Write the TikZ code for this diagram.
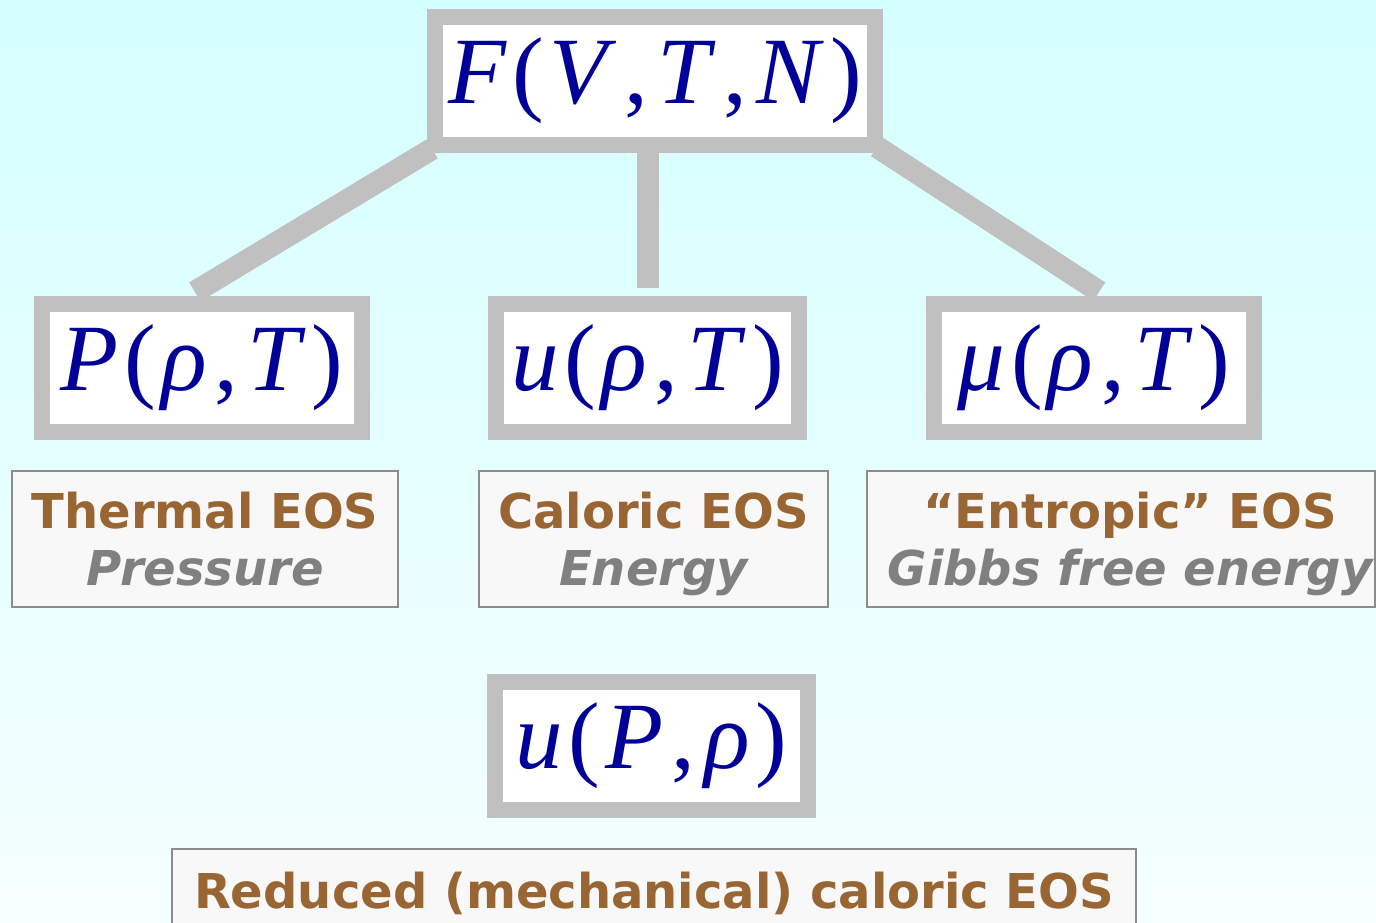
\documentclass[tikz,border=0pt]{standalone}
\usepackage{fontspec}
\setmainfont{Liberation Serif}
\newfontfamily\eosfont{DejaVu Sans}
\usetikzlibrary{positioning,calc}
\definecolor{boxgray}{HTML}{C0C0C0}
\definecolor{mathblue}{HTML}{000099}
\definecolor{eosbrown}{HTML}{996633}
\definecolor{eosgray}{HTML}{808080}
\definecolor{eosfill}{HTML}{F8F8F8}
\definecolor{eosedge}{HTML}{8C8C8C}
\definecolor{bgtop}{RGB}{212,255,255}
\definecolor{bgbottom}{RGB}{246,255,255}
% spacing of the function arguments
\newcommand{\lpar}{\hspace{6pt}(\hspace{5pt}}
\newcommand{\rpar}{\hspace{6pt})}
\newcommand{\csep}{\hspace{8pt},\hspace{9pt}}

\begin{document}
\begin{tikzpicture}[
  x=1pt, y=-1pt,
  node distance=30pt,
  fnbox/.style={
    draw=boxgray, line width=16pt, fill=white, inner sep=0pt,
    minimum height=128pt, text=mathblue,
    font=\fontsize{95}{100}\selectfont
  },
  eosbox/.style={
    draw=eosedge, line width=1.5pt, fill=eosfill, inner sep=0pt,
    minimum height=136pt, align=center, text depth=0pt,
    text=eosbrown, font=\eosfont\bfseries\fontsize{48}{57}\selectfont
  },
  link/.style={draw=boxgray, line width=22pt, shorten >=8pt},
]
  \clip (0,0) rectangle (1376,923);
  \shade[top color=bgtop, bottom color=bgbottom] (0,0) rectangle (1376,923);

  % the free energy and what follows from it
  \node[fnbox, minimum width=440pt] (fvtn) at (655,81)
    {\textit{F}\lpar\textit{V}\csep\textit{T}\csep\textit{N}\rpar};
  \node[fnbox, minimum width=320pt] (ptherm) at (202,368)
    {\textit{P}\lpar\textit{ρ}\csep\textit{T}\rpar};
  \node[fnbox, minimum width=303pt] (ucal) at (647.5,368)
    {\textit{u}\lpar\textit{ρ}\csep\textit{T}\rpar};
  \node[fnbox, minimum width=320pt] (muent) at (1094,368)
    {\textit{μ}\lpar\textit{ρ}\csep\textit{T}\rpar};
  \node[fnbox, minimum width=313pt] (upr) at (651.5,746)
    {\textit{u}\lpar\textit{P}\csep\textit{ρ}\rpar};

  % names of the equations of state
  \node[eosbox, minimum width=386pt, below=30pt of ptherm, xshift=3pt] (thermal)
    {Thermal EOS\\{\color{eosgray}\itshape Pressure}};
  \node[eosbox, minimum width=349pt, below=30pt of ucal, xshift=6pt] (caloric)
    {Caloric EOS\\{\color{eosgray}\itshape Energy}};
  \node[eosbox, minimum width=508pt, below=30pt of muent, xshift=27pt] (entropic)
    {\hspace*{18pt}“Entropic” EOS\\\hspace*{18pt}{\color{eosgray}\itshape Gibbs free energy}};
  \node[eosbox, minimum width=964pt, minimum height=84pt, below=30pt of upr, xshift=2.5pt] (reduced)
    {Reduced (mechanical) caloric EOS};

  \draw[link] ($(fvtn.south west)+(5,-4)$) -- ($(ptherm.north)+(-14,0)$);
  \draw[link] (fvtn.south -| ucal.north) -- (ucal.north);
  \draw[link] ($(fvtn.south east)+(-6,-6)$) -- ($(muent.north)+(12,0)$);
\end{tikzpicture}
\end{document}
